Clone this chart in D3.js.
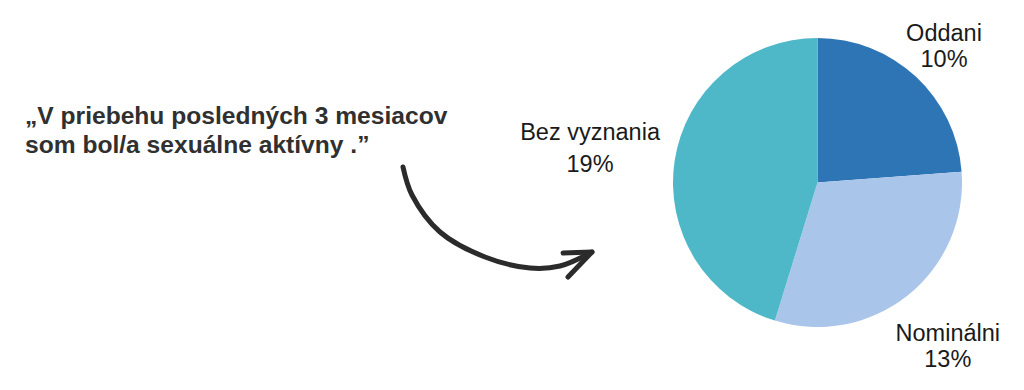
<!DOCTYPE html>
<html>
<head>
<meta charset="utf-8">
<script src="https://cdn.jsdelivr.net/npm/d3@7"></script>
<style>
  html, body { margin: 0; padding: 0; background: #ffffff; }
  svg { display: block; }
  .title { font-family: "Liberation Sans", Arial, sans-serif; font-weight: 700; fill: #303030; }
  .label { font-family: "Liberation Sans", Arial, sans-serif; font-weight: 400; fill: #1a1a1a; }
</style>
</head>
<body>
<svg id="canvas" width="1024" height="390"></svg>
<script>

// data
const categories = ["Oddani", "Nominálni", "Bez vyznania"];
const shares = [10, 13, 19]; // percent
const colors = ["#2e75b6", "#a9c5e9", "#4fb8c8"];
const titleLines = ["„V priebehu posledných 3 mesiacov", "som bol/a sexuálne aktívny .”"];

// layout
const cx = 817.5, cy = 182.5, r = 144.5;
const labelRadius = [186, 209, 230]; // distance of label centre from pie centre
const labelSize = 23.5;
const labelGap = [26.5, 26.5, 32];
const arrowPoints = [[403, 167], [412, 195], [440, 232], [485, 257], [530, 268], [560, 266], [592, 252]];

const svg = d3.select("#canvas");

// title, one text with a tspan per line
svg.append("text")
    .attr("class", "title")
    .attr("font-size", 24.6)
    .selectAll("tspan")
    .data(titleLines)
    .join("tspan")
    .attr("x", 25)
    .attr("y", (d, i) => 124 + i * 29)
    .text(d => d);

// arrow
const line = d3.line().curve(d3.curveCatmullRom);
svg.append("path")
    .attr("d", line(arrowPoints))
    .attr("fill", "none")
    .attr("stroke", "#2b2b2b")
    .attr("stroke-width", 5)
    .attr("stroke-linecap", "round");

const tip = arrowPoints[arrowPoints.length - 1];
svg.append("path")
    .attr("d", d3.line()([[563, 253], tip, [568, 277]]))
    .attr("fill", "none")
    .attr("stroke", "#2b2b2b")
    .attr("stroke-width", 5)
    .attr("stroke-linecap", "round")
    .attr("stroke-linejoin", "round");

// pie
const pie = d3.pie().sort(null).value(d => d)(shares);
const arc = d3.arc().innerRadius(0).outerRadius(r);

const g = svg.append("g").attr("transform", `translate(${cx},${cy})`);

g.selectAll("path")
    .data(pie)
    .join("path")
    .attr("d", arc)
    .attr("fill", (d, i) => colors[i]);

// labels: name + percent as two tspans
const labels = g.selectAll("text.label")
    .data(pie)
    .join("text")
    .attr("class", "label")
    .attr("text-anchor", "middle")
    .attr("font-size", labelSize)
    .attr("transform", (d, i) => {
        const a = (d.startAngle + d.endAngle) / 2;
        const rr = labelRadius[i];
        return `translate(${rr * Math.sin(a)},${-rr * Math.cos(a)})`;
    });

labels.append("tspan")
    .attr("x", 0)
    .attr("y", (d, i) => -labelGap[i] / 2 + 8)
    .text((d, i) => categories[i]);

labels.append("tspan")
    .attr("x", 0)
    .attr("y", (d, i) => labelGap[i] / 2 + 8)
    .text(d => d.value + "%");

</script>
</body>
</html>
